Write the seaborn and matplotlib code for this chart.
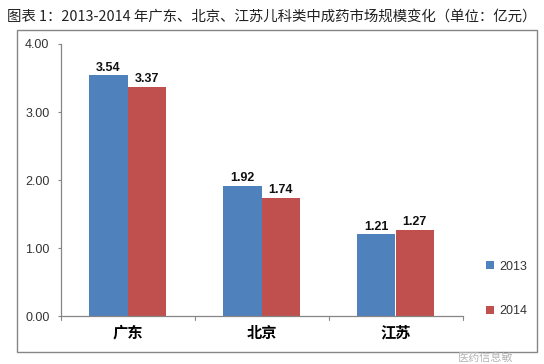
import matplotlib
matplotlib.use("Agg")
import pandas as pd
import matplotlib.pyplot as plt
from matplotlib.patches import Rectangle
import seaborn as sns

provinces = ["广东", "北京", "江苏"]
years = ["2013", "2014"]
values_2013 = [3.54, 1.92, 1.21]
values_2014 = [3.37, 1.74, 1.27]
y_ticks = [0, 1, 2, 3, 4]
title = "图表 1：2013-2014 年广东、北京、江苏儿科类中成药市场规模变化（单位：亿元）"

df = pd.DataFrame({
    "province": provinces * 2,
    "year": [years[0]] * 3 + [years[1]] * 3,
    "value": values_2013 + values_2014,
})

sns.set_style("white")
plt.rcParams['font.family'] = ['Noto Sans CJK SC', 'DejaVu Sans']

W, H = 544, 364
fig = plt.figure(figsize=(W / 100, H / 100), dpi=100)
ax = fig.add_axes([60.5 / W, 1 - 316.3 / H, 402 / W, 272.3 / H])

sns.barplot(data=df, x="province", y="value", hue="year", hue_order=years,
            palette=["#4f81bd", "#c0504d"], width=0.57, gap=0, saturation=1,
            linewidth=0, ax=ax)
ax.set_xlim(-0.5, 2.5)
ax.set_ylim(0, 4)
ax.set_xlabel("")
ax.set_ylabel("")

# value labels above bars
for c in ax.containers:
    ax.bar_label(c, fmt="%.2f", padding=1, fontsize=9, fontweight="bold",
                 family=["Liberation Sans"], color="#111111")

# axis ticks sit between categories, like the excel original
ax.set_yticks(y_ticks)
ax.set_yticklabels(["%.2f" % t for t in y_ticks], family=["Liberation Sans"],
                   fontsize=9, color="#333333")
ax.set_xticks([0, 1, 2])
ax.set_xticklabels(provinces, fontsize=11, fontweight="bold", color="black")
ax.tick_params(axis="x", length=0, pad=6)
ax.tick_params(axis="y", length=2.5, width=0.8, color="#868686", left=True, pad=5.5)
for x in [-0.5, 0.5, 1.5, 2.5]:
    ax.plot([x, x], [0, -0.05], color="#868686", lw=0.8, clip_on=False)

sns.despine(ax=ax)
for s in ["left", "bottom"]:
    ax.spines[s].set_color("#868686")
    ax.spines[s].set_linewidth(0.9)

handles, labels = ax.get_legend_handles_labels()
ax.legend(handles, labels, loc="center left", bbox_to_anchor=(486 / W, 1 - 289 / H),
          bbox_transform=fig.transFigure, frameon=False,
          prop={"family": "Liberation Sans", "size": 9}, handlelength=0.6, handleheight=0.6,
          handletextpad=0.45, labelspacing=2.6, borderpad=0, borderaxespad=0, labelcolor="#333333")

# outer chart frame
fig.add_artist(Rectangle((16.5 / W, 1 - 352 / H), 520.5 / W, 322.5 / H, fill=False,
                         edgecolor="#868686", lw=1, transform=fig.transFigure))

fig.text(7 / W, 1 - 17 / H, title, fontsize=10.4, color="#222222", va="center", ha="left")
fig.text(486 / W, 1 - 358 / H, "医药信息敏", fontsize=8, color="#b5b5b5", va="center", ha="center")

fig.savefig("out.png", dpi=100)
